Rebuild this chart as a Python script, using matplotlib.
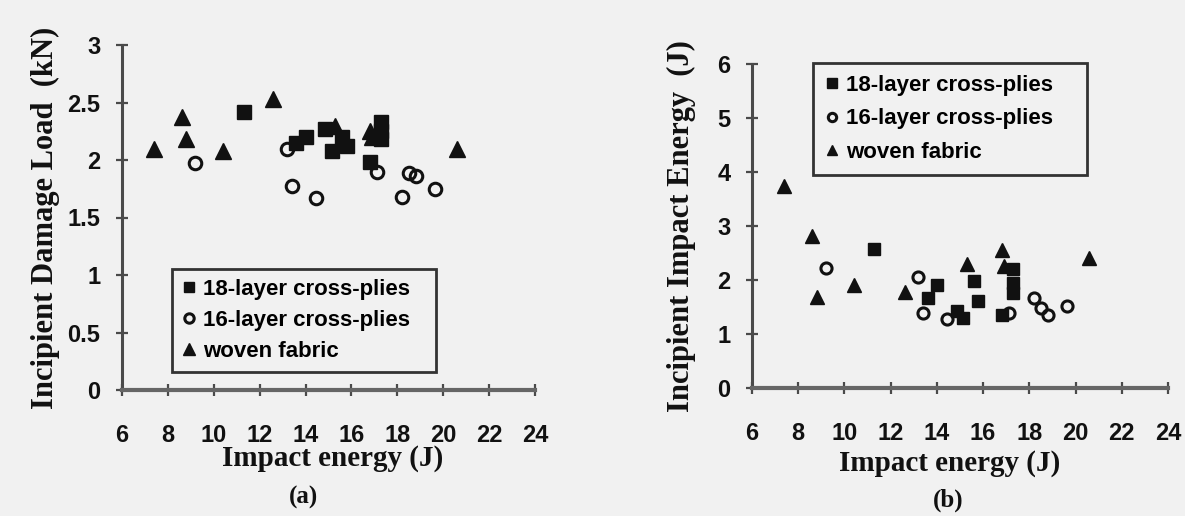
import matplotlib
matplotlib.use("Agg")
import matplotlib.pyplot as plt

# impact energies (J) for each laminate type
x_sq = [11.3, 13.6, 14.0, 14.85, 15.15, 15.6, 15.8, 16.8, 17.3, 17.3, 17.3]
x_ci = [9.2, 13.2, 13.4, 14.45, 17.1, 18.2, 18.5, 18.8, 19.65]
x_tr = [7.4, 8.6, 8.8, 10.4, 12.6, 15.3, 16.8, 16.9, 20.6]

# (a) incipient damage load (kN)
load_sq = [2.42, 2.15, 2.2, 2.27, 2.08, 2.2, 2.12, 1.98, 2.33, 2.25, 2.18]
load_ci = [1.97, 2.1, 1.77, 1.67, 1.9, 1.68, 1.89, 1.86, 1.75]
load_tr = [2.1, 2.37, 2.18, 2.08, 2.53, 2.3, 2.25, 2.2, 2.1]

# (b) incipient impact energy (J)
energy_sq = [2.58, 1.67, 1.9, 1.42, 1.30, 1.98, 1.61, 1.36, 2.2, 1.95, 1.76]
energy_ci = [2.23, 2.05, 1.38, 1.27, 1.39, 1.67, 1.48, 1.36, 1.52]
energy_tr = [3.75, 2.81, 1.68, 1.9, 1.77, 2.29, 2.55, 2.26, 2.41]

series_names = ["18-layer cross-plies", "16-layer cross-plies", "woven fabric"]
x_ticks = [6, 8, 10, 12, 14, 16, 18, 20, 22, 24]
a_ticks = [0, 0.5, 1, 1.5, 2, 2.5, 3]
a_ticklabels = ["0", "0.5", "1", "1.5", "2", "2.5", "3"]
b_ticks = [0, 1, 2, 3, 4, 5, 6]

BG = "#f1f1f1"
INK = "#111111"
AXC = "#4a4a4a"
SANS = "Liberation Sans"
SERIF = "Liberation Serif"

fig = plt.figure(figsize=(11.85, 5.16), dpi=100, facecolor=BG)
ax_a = fig.add_axes([122 / 1185, 1 - 390 / 516, 413 / 1185, 345 / 516])
ax_b = fig.add_axes([752 / 1185, 1 - 388 / 516, 416 / 1185, 324 / 516])


def draw_series(ax, ys, msize):
    y_sq, y_ci, y_tr = ys
    ax.plot(x_sq, y_sq, ls="none", marker="s", ms=msize, color=INK,
            label=series_names[0], clip_on=False)
    ax.plot(x_ci, y_ci, ls="none", marker="o", ms=msize - 1, mfc="none",
            mec=INK, mew=2.2, label=series_names[1], clip_on=False)
    ax.plot(x_tr, y_tr, ls="none", marker="^", ms=msize + 1, color=INK,
            label=series_names[2], clip_on=False)


def style_axes(ax, yticks, ylabels, ylim, ylab, lab_x, xlab_pos):
    ax.set_facecolor("none")
    ax.set_xlim(6, 24)
    ax.set_ylim(*ylim)
    for side in ("top", "right"):
        ax.spines[side].set_visible(False)
    ax.spines["left"].set_color(AXC)
    ax.spines["left"].set_linewidth(2.2)
    ax.spines["bottom"].set_color("#666666")
    ax.spines["bottom"].set_linewidth(3.0)
    ax.set_xticks(x_ticks)
    ax.set_xticklabels([str(t) for t in x_ticks])
    ax.set_yticks(yticks)
    ax.set_yticklabels(ylabels)
    ax.tick_params(axis="x", direction="inout", length=9, width=1.6,
                   color=AXC, pad=20)
    ax.tick_params(axis="y", direction="inout", length=9, width=1.6,
                   color=AXC, pad=11)
    for lbl in ax.get_xticklabels() + ax.get_yticklabels():
        lbl.set_fontfamily(SANS)
        lbl.set_fontweight("bold")
        lbl.set_fontsize(17)
        lbl.set_color(INK)
    ax.set_ylabel(ylab, fontfamily=SERIF, fontweight="bold", fontsize=22,
                  color=INK)
    ax.yaxis.set_label_coords(lab_x, 0.5)
    ax.set_xlabel("Impact energy (J)", fontfamily=SERIF, fontweight="bold",
                  fontsize=21, color=INK)
    ax.xaxis.set_label_coords(*xlab_pos)


legend_kw = dict(mode="expand", borderaxespad=0,
                 prop={"family": SANS, "weight": "bold", "size": 16},
                 markerscale=0.75, handlelength=0.6, handletextpad=0.35,
                 fancybox=False, framealpha=1, facecolor=BG,
                 edgecolor="#333333")

# ---- (a) damage load
draw_series(ax_a, (load_sq, load_ci, load_tr), 10)
style_axes(ax_a, a_ticks, a_ticklabels, (0, 3),
           "Incipient Damage Load  (kN)", -0.15, (0.51, -0.16))
leg_a = ax_a.legend(loc="lower left", bbox_to_anchor=(0.121, 0.052, 0.639, 0.31),
                    labelspacing=0.45, borderpad=0.45, **legend_kw)
leg_a.get_frame().set_linewidth(2.0)

# ---- (b) impact energy
draw_series(ax_b, (energy_sq, energy_ci, energy_tr), 9)
style_axes(ax_b, b_ticks, [str(t) for t in b_ticks], (0, 6),
           "Incipient Impact Energy  (J)", -0.135, (0.475, -0.19))
leg_b = ax_b.legend(loc="upper left", bbox_to_anchor=(0.147, 0.614, 0.658, 0.389),
                    labelspacing=0.55, borderpad=0.55, **legend_kw)
leg_b.get_frame().set_linewidth(2.0)

fig.text(0.2565, 0.035, "(a)", fontfamily=SERIF, fontweight="bold",
         fontsize=18, ha="center", va="center", color=INK)
fig.text(0.8005, 0.031, "(b)", fontfamily=SERIF, fontweight="bold",
         fontsize=18, ha="center", va="center", color=INK)

fig.savefig("out.png", dpi=100, facecolor=BG)
